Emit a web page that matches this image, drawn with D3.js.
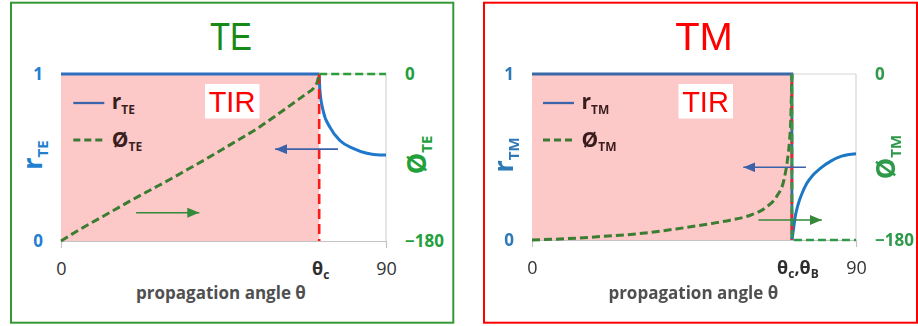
<!DOCTYPE html>
<html>
<head>
<meta charset="utf-8">
<script src="https://cdn.jsdelivr.net/npm/d3@7"></script>
<style>
  html, body { margin: 0; padding: 0; background: #fff; }
  svg { display: block; }
  text { font-family: "Open Sans", sans-serif; }
</style>
</head>
<body>
<svg id="chart" width="918" height="326"></svg>
<script>
// ---- shared axis ticks ----
const xTicks = [0, 90];          // propagation angle (deg)
const rTicks = [0, 1];           // reflection amplitude
const phaseTicks = [-180, 0];    // phase (deg)

// ---- TE polarisation ----
const teCritical = 71.5;
const teRAngle   = [0, 71.5, 71.7, 72.6, 74.5, 77.3, 80.9, 84.7, 88.3, 90];
const teRValue   = [1, 1, 0.9, 0.78, 0.68, 0.6, 0.555, 0.525, 0.515, 0.515];
const tePhaseAngle = [0, 5, 10, 15, 20, 25, 30, 35, 40, 45, 50, 55, 60, 65, 68, 70, 71, 71.5];
const tePhaseValue = [-180, -168, -157, -146, -135, -124.5, -114, -103, -92, -80.5, -69, -57, -43.5, -29.5, -21, -15, -8, 0];
const tePhaseTailAngle = [71.5, 90];
const tePhaseTailValue = [0, 0];
const teArrowR     = [76.7, 59.3, 0.55];    // from angle, to angle, r level
const teArrowPhase = [20.8, 38.3, -149.5];  // from angle, to angle, phase level

// ---- TM polarisation ----
const tmCritical = 72.2;
const tmRAngle   = [0, 72.2, 72.2, 72.6, 73.2, 74, 75, 76.3, 78, 80, 83, 86, 90];
const tmRValue   = [1, 1, 0, 0.06, 0.15, 0.22, 0.28, 0.34, 0.39, 0.43, 0.475, 0.505, 0.52];
const tmPhaseAngle = [0, 10, 20, 30, 40, 50, 55, 60, 65, 68, 70, 71, 71.5, 71.9, 72.2];
const tmPhaseValue = [-180, -178.5, -176, -173, -168, -162, -158.5, -154, -144.5, -132.5, -114.5, -92, -74, -48, 0];
const tmPhaseTailAngle = [72.2, 72.2, 90];
const tmPhaseTailValue = [0, -180, -180];
const tmArrowR     = [76.1, 58.7, 0.438];
const tmArrowPhase = [62.9, 80.5, -158.3];

const svg = d3.select("#chart");
const defs = svg.append("defs");

function arrowMarker(id, color) {
  defs.append("marker")
    .attr("id", id)
    .attr("markerUnits", "userSpaceOnUse")
    .attr("viewBox", "0 0 12 10")
    .attr("refX", 12).attr("refY", 5)
    .attr("markerWidth", 12).attr("markerHeight", 10)
    .attr("orient", "auto")
    .append("path").attr("d", "M0,0 L12,5 L0,10 Z").attr("fill", color);
}
arrowMarker("arrBlue", "#3b62a8");
arrowMarker("arrGreen", "#35893a");

defs.append("filter").attr("id", "soft")
  .append("feGaussianBlur").attr("stdDeviation", 0.45);

function pairs(a, b) { return a.map((v, i) => [v, b[i]]); }

function drawPanel(p) {
  const g = svg.append("g");
  if (p.soft) g.attr("filter", "url(#soft)");

  const x  = d3.scaleLinear().domain([0, 90]).range([p.left, p.right]);
  const yR = d3.scaleLinear().domain([0, 1]).range([p.bottom, p.top]);
  const yP = d3.scaleLinear().domain([-180, 0]).range([p.bottom, p.top]);

  // outer frame
  g.append("rect")
    .attr("x", p.frame[0]).attr("y", p.frame[1])
    .attr("width", p.frame[2]).attr("height", p.frame[3])
    .attr("fill", "none").attr("stroke", p.frameColor).attr("stroke-width", 2);

  // title
  g.append("text")
    .attr("x", p.titleX).attr("y", 49.5)
    .attr("text-anchor", "middle")
    .style("font-family", "'Liberation Sans', Arial, sans-serif")
    .attr("font-size", 39)
    .attr("textLength", p.titleLen).attr("lengthAdjust", "spacingAndGlyphs")
    .attr("fill", p.titleColor)
    .text(p.title);

  // total internal reflection region
  g.append("rect")
    .attr("x", x(0)).attr("y", yR(1))
    .attr("width", x(p.crit) - x(0)).attr("height", yR(0) - yR(1))
    .attr("fill", "#fcc8c8");

  // plot frame (top + right)
  g.append("line").attr("x1", x(0)).attr("x2", x(90)).attr("y1", yR(1)).attr("y2", yR(1))
    .attr("stroke", "#d6d6d6").attr("stroke-width", 1.2);
  g.append("line").attr("x1", x(90)).attr("x2", x(90)).attr("y1", yR(1)).attr("y2", yR(0))
    .attr("stroke", "#d6d6d6").attr("stroke-width", 1.2);

  // bottom axis
  const ax = g.append("g").attr("transform", `translate(0,${yR(0)})`)
    .call(d3.axisBottom(x).tickValues(xTicks).tickSize(7).tickSizeOuter(0).tickPadding(14)
      .tickFormat(d3.format("d")));
  ax.attr("font-family", null).attr("font-size", null);
  ax.select(".domain").attr("stroke", "#c4c4c4").attr("stroke-width", 1.2);
  ax.selectAll(".tick line").attr("stroke", "#c4c4c4").attr("stroke-width", 1.2);
  ax.selectAll(".tick text").attr("fill", "#333").attr("font-size", 18);

  // critical-angle label
  const cl = g.append("text")
    .attr("x", x(p.crit) + p.critLabelShift).attr("y", yR(0) + 33.5)
    .attr("text-anchor", "middle").attr("font-size", 18).attr("font-weight", 700)
    .attr("fill", "#2e2e2e");
  p.critLabel.forEach(part => {
    cl.append("tspan").text(part[0]);
    cl.append("tspan").attr("font-size", 12).attr("dy", 4).text(part[1]);
    if (part[2]) cl.append("tspan").attr("dy", -4).text(part[2]);
  });

  // axis title
  g.append("text")
    .attr("x", (x(0) + x(90)) / 2 + p.xTitleShift).attr("y", 299)
    .attr("text-anchor", "middle").attr("font-size", 17).attr("font-weight", 700)
    .attr("fill", "#505050")
    .text("propagation angle θ");

  // left axis (r)
  const al = g.append("g").attr("transform", `translate(${x(0)},0)`)
    .call(d3.axisLeft(yR).tickValues(rTicks).tickSize(0).tickPadding(18).tickFormat(d3.format("d")));
  al.attr("font-family", null).attr("font-size", null);
  al.select(".domain").remove();
  al.selectAll(".tick text").attr("fill", p.rColor).attr("font-size", 17).attr("font-weight", 700);

  // right axis (phase)
  const ar = g.append("g").attr("transform", `translate(${x(90)},0)`)
    .call(d3.axisRight(yP).tickValues(phaseTicks).tickSize(0).tickPadding(19).tickFormat(d3.format("d")));
  ar.attr("font-family", null).attr("font-size", null);
  ar.select(".domain").remove();
  ar.selectAll(".tick text").attr("fill", p.phColor).attr("font-size", 17).attr("font-weight", 700);

  // rotated axis titles
  const lt = g.append("text")
    .attr("transform", `translate(${p.rTitleX},155) rotate(-90)`)
    .attr("text-anchor", "middle").attr("font-weight", 700).attr("fill", p.rColor);
  lt.append("tspan").attr("font-size", 27).text("r");
  lt.append("tspan").attr("font-size", 15).attr("dy", 6).text(p.sub);

  const rt = g.append("text")
    .attr("transform", `translate(${p.phTitleX},${p.phTitleY}) rotate(-90)`)
    .attr("text-anchor", "middle").attr("font-weight", 700).attr("fill", p.phColor);
  rt.append("tspan").attr("font-size", 27).text("Ø");
  rt.append("tspan").attr("font-size", 15).attr("dy", 6).text(p.sub);

  // reflection amplitude
  const lineR = d3.line().x(d => x(d[0])).y(d => yR(d[1]));
  const rPts = pairs(p.rAngle, p.rValue);
  const jump = p.rJump; // index where the smooth branch begins
  g.append("path").datum(rPts.slice(0, jump + 1))
    .attr("d", lineR.curve(d3.curveLinear))
    .attr("fill", "none").attr("stroke", p.rLine).attr("stroke-width", 2.8);
  g.append("path").datum(rPts.slice(jump))
    .attr("d", lineR.curve(d3.curveMonotoneX))
    .attr("fill", "none").attr("stroke", p.rCurve).attr("stroke-width", 3)
    .attr("stroke-linejoin", "round");

  // critical-angle marker
  g.append("line").attr("x1", x(p.crit)).attr("x2", x(p.crit))
    .attr("y1", yR(1)).attr("y2", yR(0))
    .attr("stroke", "#ff1a1a").attr("stroke-width", 2.6).attr("stroke-dasharray", "10,5");

  // phase
  const lineP = d3.line().x(d => x(d[0])).y(d => yP(d[1]));
  g.append("path").datum(pairs(p.phAngle, p.phValue))
    .attr("d", lineP.curve(d3.curveMonotoneX))
    .attr("fill", "none").attr("stroke", "#3a7d30").attr("stroke-width", 3)
    .attr("stroke-dasharray", "8,4");
  g.append("path").datum(pairs(p.tailAngle, p.tailValue))
    .attr("d", lineP.curve(d3.curveLinear))
    .attr("fill", "none").attr("stroke", p.tailColor).attr("stroke-width", 2.6)
    .attr("stroke-dasharray", "8,4");

  // arrows pointing to the matching axis
  g.append("line")
    .attr("x1", x(p.arrowR[0])).attr("x2", x(p.arrowR[1]))
    .attr("y1", yR(p.arrowR[2])).attr("y2", yR(p.arrowR[2]))
    .attr("stroke", "#3b62a8").attr("stroke-width", 1.6)
    .attr("marker-end", "url(#arrBlue)");
  g.append("line")
    .attr("x1", x(p.arrowP[0])).attr("x2", x(p.arrowP[1]))
    .attr("y1", yP(p.arrowP[2])).attr("y2", yP(p.arrowP[2]))
    .attr("stroke", "#35893a").attr("stroke-width", 1.6)
    .attr("marker-end", "url(#arrGreen)");

  // TIR tag
  const tx = x(0) + p.tirX;
  g.append("rect").attr("x", tx - 27).attr("y", 84).attr("width", 54.5).attr("height", 34.5)
    .attr("fill", "#fff");
  g.append("text").attr("x", tx).attr("y", 111.7)
    .attr("text-anchor", "middle")
    .style("font-family", "'Liberation Sans', Arial, sans-serif")
    .attr("font-size", 29).attr("fill", "#ff0000")
    .text("TIR");

  // legend
  const lx = x(0) + p.legendX;
  g.append("line").attr("x1", lx).attr("x2", lx + 31).attr("y1", 103).attr("y2", 103)
    .attr("stroke", "#3d63a8").attr("stroke-width", 2.3);
  g.append("line").attr("x1", lx).attr("x2", lx + 31).attr("y1", 140).attr("y2", 140)
    .attr("stroke", "#3b7a35").attr("stroke-width", 2.8).attr("stroke-dasharray", "7,4");
  const l1 = g.append("text").attr("x", lx + 38.5).attr("y", 109)
    .attr("font-weight", 700).attr("fill", "#3b1f1f");
  l1.append("tspan").attr("font-size", 21).text("r");
  l1.append("tspan").attr("font-size", 12).attr("dy", 4.5).text(p.sub);
  const l2 = g.append("text").attr("x", lx + 38.5).attr("y", 146.5)
    .attr("font-weight", 700).attr("fill", "#3b1f1f");
  l2.append("tspan").attr("font-size", 21).text("Ø");
  l2.append("tspan").attr("font-size", 12).attr("dy", 4).text(p.sub);
}

drawPanel({
  frame: [11, 2.7, 442.3, 320], frameColor: "#339a33",
  title: "TE", titleX: 231, titleLen: 42, titleColor: "#168a16",
  left: 61, right: 386, top: 74, bottom: 241,
  crit: teCritical, critLabel: [["θ", "c"]], critLabelShift: 1.5,
  xTitleShift: -2.5,
  rColor: "#1f7fd0", phColor: "#22a03a", sub: "TE",
  rTitleX: 42, phTitleX: 426, phTitleY: 155,
  rAngle: teRAngle, rValue: teRValue, rJump: 1,
  rLine: "#2f6fbf", rCurve: "#1f78cc",
  phAngle: tePhaseAngle, phValue: tePhaseValue,
  tailAngle: tePhaseTailAngle, tailValue: tePhaseTailValue, tailColor: "#2b9d3a",
  arrowR: teArrowR, arrowP: teArrowPhase,
  tirX: 171, legendX: 12.3
});

drawPanel({
  frame: [484, 2.7, 433, 320], frameColor: "#ff0000", soft: true,
  title: "TM", titleX: 704, titleLen: 57.7, titleColor: "#ff0000",
  left: 532, right: 856, top: 74, bottom: 240,
  crit: tmCritical, critLabel: [["θ", "c", ","], ["θ", "B"]], critLabelShift: 6,
  xTitleShift: -0.7,
  rColor: "#2f7ab8", phColor: "#2e9a4a", sub: "TM",
  rTitleX: 513, phTitleX: 895, phTitleY: 157,
  rAngle: tmRAngle, rValue: tmRValue, rJump: 2,
  rLine: "#3a69a8", rCurve: "#1f78c4",
  phAngle: tmPhaseAngle, phValue: tmPhaseValue,
  tailAngle: tmPhaseTailAngle, tailValue: tmPhaseTailValue, tailColor: "#2e9a4a",
  arrowR: tmArrowR, arrowP: tmArrowPhase,
  tirX: 173.5, legendX: 11
});
</script>
</body>
</html>
